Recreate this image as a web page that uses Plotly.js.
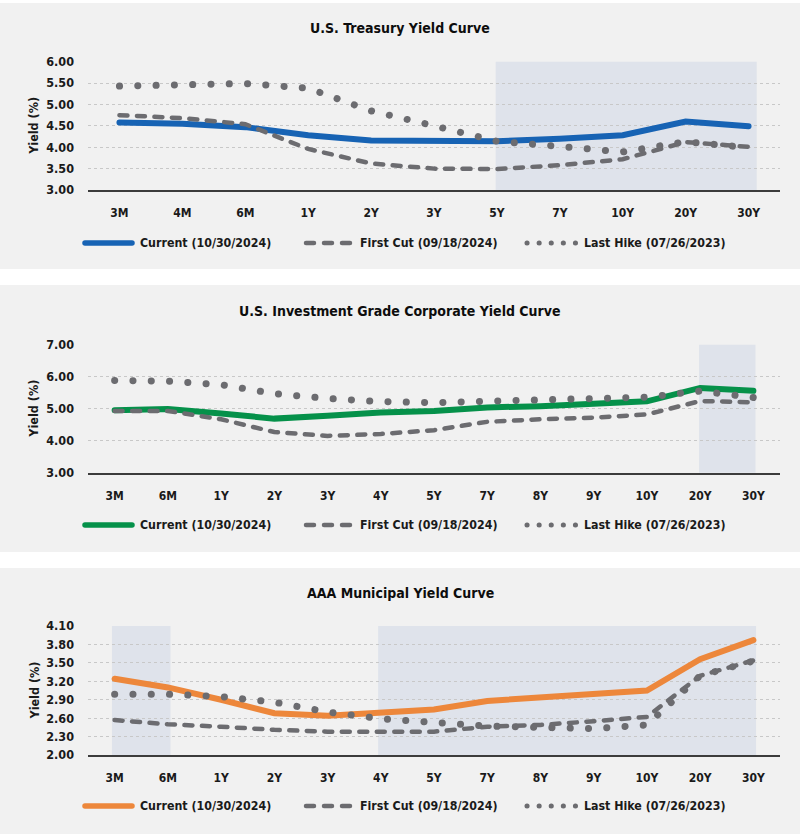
<!DOCTYPE html>
<html>
<head>
<meta charset="utf-8">
<script src="https://cdn.plot.ly/plotly-3.0.1.min.js"></script>
<style>
html,body{margin:0;padding:0;background:#ffffff;}
#chart{width:800px;height:836px;}
.js-line{stroke-linecap:round;}
.shapelayer path{stroke-linecap:round;}
</style>
</head>
<body>
<div id="chart"></div>
<script>
// ---------- DATA ----------
const treasuryCategories = ['3M','4M','6M','1Y','2Y','3Y','5Y','7Y','10Y','20Y','30Y'];
const treasuryCurrent   = [4.58, 4.55, 4.47, 4.28, 4.16, 4.14, 4.14, 4.20, 4.28, 4.60, 4.49];
const treasuryFirstCut  = [4.75, 4.68, 4.54, 3.96, 3.62, 3.50, 3.49, 3.58, 3.72, 4.12, 4.01];
const treasuryLastHike  = [5.43, 5.46, 5.49, 5.38, 4.85, 4.50, 4.14, 4.02, 3.89, 4.13, 3.99];

const corpCategories = ['3M','6M','1Y','2Y','3Y','4Y','5Y','7Y','8Y','9Y','10Y','20Y','30Y'];
const corpCurrent    = [4.95, 4.99, 4.85, 4.69, 4.78, 4.88, 4.93, 5.04, 5.08, 5.14, 5.23, 5.65, 5.56];
const corpFirstCut   = [4.93, 4.93, 4.67, 4.27, 4.15, 4.21, 4.33, 4.59, 4.67, 4.72, 4.82, 5.24, 5.20];
const corpLastHike   = [5.88, 5.86, 5.75, 5.47, 5.32, 5.22, 5.19, 5.23, 5.26, 5.30, 5.36, 5.55, 5.35];

const muniCategories = ['3M','6M','1Y','2Y','3Y','4Y','5Y','7Y','8Y','9Y','10Y','20Y','30Y'];
const muniCurrent    = [3.24, 3.10, 2.90, 2.68, 2.64, 2.69, 2.74, 2.88, 2.94, 2.99, 3.05, 3.56, 3.87];
const muniFirstCut   = [2.57, 2.50, 2.46, 2.41, 2.38, 2.38, 2.38, 2.46, 2.49, 2.55, 2.62, 3.29, 3.54];
const muniLastHike   = [2.99, 2.99, 2.95, 2.86, 2.70, 2.59, 2.53, 2.47, 2.45, 2.43, 2.49, 3.29, 3.53];

const seriesNames = ['Current (10/30/2024)', 'First Cut (09/18/2024)', 'Last Hike (07/26/2023)'];
const panelTitles = ['U.S. Treasury Yield Curve', 'U.S. Investment Grade Corporate Yield Curve', 'AAA Municipal Yield Curve'];
// highlighted maturity ranges [from, to] (category labels)
const treasuryHighlights = [['5Y','30Y']];
const corpHighlights     = [['20Y','30Y']];
const muniHighlights     = [['3M','6M'], ['4Y','30Y']];

// ---------- LAYOUT HELPERS ----------
const W = 800, H = 836;
const px = x => x / W;
const py = y => 1 - y / H;
const FONT = "'DejaVu Sans Condensed', 'DejaVu Sans', sans-serif";
const TXT = '#1a1a1a';
const GRAY = '#6c6c70';

const panels = [
  {cats: treasuryCategories, cur: treasuryCurrent, fc: treasuryFirstCut, lh: treasuryLastHike,
   color: '#1763b4', title: panelTitles[0], hl: treasuryHighlights, hlPad: [-0.02, 0.13],
   box: [3, 269], plot: [61.7, 190], range: [3, 6], dtick: 0.5, tick0: 3, titleY: 28, legY: 243},
  {cats: corpCategories, cur: corpCurrent, fc: corpFirstCut, lh: corpLastHike,
   color: '#05914a', title: panelTitles[1], hl: corpHighlights, hlPad: [-0.02, 0.04],
   box: [285, 552], plot: [344.7, 472.7], range: [3, 7], dtick: 1, tick0: 3, titleY: 311, legY: 525},
  {cats: muniCategories, cur: muniCurrent, fc: muniFirstCut, lh: muniLastHike,
   color: '#ed873b', title: panelTitles[2], hl: muniHighlights, hlPad: [-0.05, 0.05],
   box: [568, 834], plot: [626, 755], range: [2, 4.1], dtick: 0.3, tick0: 2, titleY: 593, legY: 806}
];

const traces = [];
const layout = {
  width: W, height: H,
  margin: {l: 0, r: 0, t: 0, b: 0},
  paper_bgcolor: '#ffffff',
  plot_bgcolor: 'rgba(0,0,0,0)',
  showlegend: false,
  hovermode: false,
  font: {family: FONT, color: TXT, size: 12},
  shapes: [], annotations: []
};

panels.forEach((p, i) => {
  const k = i === 0 ? '' : String(i + 1);
  const xa = 'x' + k, ya = 'y' + k;
  // series
  traces.push({x: p.cats, y: p.cur, xaxis: xa, yaxis: ya, type: 'scatter', mode: 'lines',
    name: seriesNames[0], line: {color: p.color, width: 6}});
  traces.push({x: p.cats, y: p.fc, xaxis: xa, yaxis: ya, type: 'scatter', mode: 'lines',
    name: seriesNames[1], line: {color: GRAY, width: 4.5, dash: '8px,9.5px'}});
  traces.push({x: p.cats, y: p.lh, xaxis: xa, yaxis: ya, type: 'scatter', mode: 'lines',
    name: seriesNames[2], line: {color: GRAY, width: 7, dash: '0.1px,18.2px'}});

  layout['xaxis' + k] = {
    domain: [px(88), px(780)], anchor: ya, type: 'category',
    categoryorder: 'array', categoryarray: p.cats, range: [-0.5, p.cats.length - 0.5],
    showgrid: false, zeroline: false, showline: true, linecolor: '#3c3c3c', linewidth: 2,
    ticks: '', ticklabelstandoff: 11,
    tickfont: {family: FONT, size: 12, color: TXT, weight: 'bold'}, fixedrange: true
  };
  layout['yaxis' + k] = {
    domain: [py(p.plot[1]), py(p.plot[0])], anchor: xa,
    range: p.range, dtick: p.dtick, tick0: p.tick0, tickformat: '.2f',
    showgrid: true, gridcolor: '#c8c8c8', gridwidth: 1, griddash: '3px,3px',
    zeroline: false, showline: false, ticks: '', ticklabelstandoff: 13,
    tickfont: {family: FONT, size: 12.5, color: TXT, weight: 'bold'}, fixedrange: true
  };

  // panel background
  layout.shapes.push({type: 'rect', xref: 'paper', yref: 'paper', layer: 'below',
    x0: 0, x1: 1, y0: py(p.box[1]), y1: py(p.box[0]), fillcolor: '#f1f1f1', line: {width: 0}});
  // highlighted ranges
  p.hl.forEach(r => {
    layout.shapes.push({type: 'rect', xref: xa, yref: ya + ' domain', layer: 'below',
      x0: p.cats.indexOf(r[0]) + p.hlPad[0], x1: p.cats.indexOf(r[1]) + p.hlPad[1],
      y0: 0, y1: 1, fillcolor: '#dfe3eb', line: {width: 0}});
  });

  // title
  layout.annotations.push({xref: 'paper', yref: 'paper', x: 0.5, y: py(p.titleY),
    xanchor: 'center', yanchor: 'middle', showarrow: false, text: p.title,
    font: {family: FONT, size: 14, color: '#0d0d0d', weight: 'bold'}});
  // y title
  layout.annotations.push({xref: 'paper', yref: 'paper', x: px(34), y: py((p.plot[0] + p.plot[1]) / 2),
    xanchor: 'center', yanchor: 'middle', showarrow: false, text: 'Yield (%)', textangle: -90,
    font: {family: FONT, size: 12.5, color: TXT, weight: 'bold'}});

  // legend (manual)
  const ly = py(p.legY);
  const leg = [
    {x0: 85, x1: 132, tx: 138, color: p.color, width: 5.5, dash: 'solid'},
    {x0: 306, x1: 351, tx: 358, color: GRAY, width: 4.5, dash: '8px,10px'},
    {x0: 527, x1: 576, tx: 582, color: GRAY, width: 5, dash: '0.1px,12px'}
  ];
  leg.forEach((l, j) => {
    layout.shapes.push({type: 'line', xref: 'paper', yref: 'paper', layer: 'above',
      x0: px(l.x0), x1: px(l.x1), y0: ly, y1: ly, line: {color: l.color, width: l.width, dash: l.dash}});
    layout.annotations.push({xref: 'paper', yref: 'paper', x: px(l.tx), y: ly,
      xanchor: 'left', yanchor: 'middle', showarrow: false, text: seriesNames[j],
      font: {family: FONT, size: 12.3, color: TXT, weight: 'bold'}});
  });
});

Plotly.newPlot('chart', traces, layout, {staticPlot: true, displayModeBar: false});
</script>
</body>
</html>
